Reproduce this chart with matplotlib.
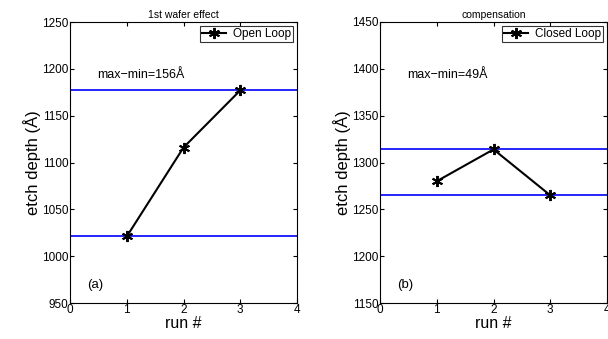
import matplotlib
matplotlib.use("Agg")
import matplotlib.pyplot as plt

plt.rcParams['font.family'] = ['Liberation Sans', 'DejaVu Sans']

runs = [1, 2, 3]
open_loop = [1021, 1116, 1177]
closed_loop = [1280, 1314, 1265]
open_bounds = [1021, 1177]
closed_bounds = [1265, 1314]

fig = plt.figure(figsize=(6.08, 3.39), dpi=100)
ax1 = fig.add_axes([70/608, 1-303/339, 227/608, 281/339])
ax2 = fig.add_axes([380/608, 1-303/339, 227/608, 281/339])

panels = [
    (ax1, open_loop, open_bounds, "Open Loop", "1st wafer effect", (950, 1250), "(a)", "max\u2212min=156Å"),
    (ax2, closed_loop, closed_bounds, "Closed Loop", "compensation", (1150, 1450), "(b)", "max\u2212min=49Å"),
]
for ax, vals, bounds, lab, title, ylim, tag, note in panels:
    for b in bounds:
        ax.axhline(b, color='#0000ff', lw=1.2)
    ax.plot(runs, vals, color='black', lw=1.5, marker=(6, 2, 0), markersize=8,
            markeredgewidth=1.4, label=lab)
    ax.set_xlim(0, 4)
    ax.set_ylim(*ylim)
    ax.set_xticks([0, 1, 2, 3, 4])
    ax.set_yticks(range(ylim[0], ylim[1] + 1, 50))
    ax.tick_params(direction='in', top=True, right=True, labelsize=8.5, length=3, pad=1)
    ax.set_title(title, fontsize=7.5, pad=3)
    ax.set_xlabel("run #", fontsize=11.5, labelpad=0)
    ax.set_ylabel("etch depth (Å)", fontsize=12, labelpad=1)
    ax.text(0.3, ylim[0] + 0.065 * (ylim[1] - ylim[0]), tag, fontsize=9.5, va='center')
    ax.text(0.48, ylim[0] + 0.81 * (ylim[1] - ylim[0]), note, fontsize=9, va='center')
    leg = ax.legend(loc='upper right', fontsize=8.5, frameon=True, fancybox=False,
                    edgecolor='black', borderpad=0.2, handlelength=2.0,
                    borderaxespad=0.3, handletextpad=0.6)
    leg.get_frame().set_linewidth(0.8)

fig.savefig("out.png", dpi=100)
